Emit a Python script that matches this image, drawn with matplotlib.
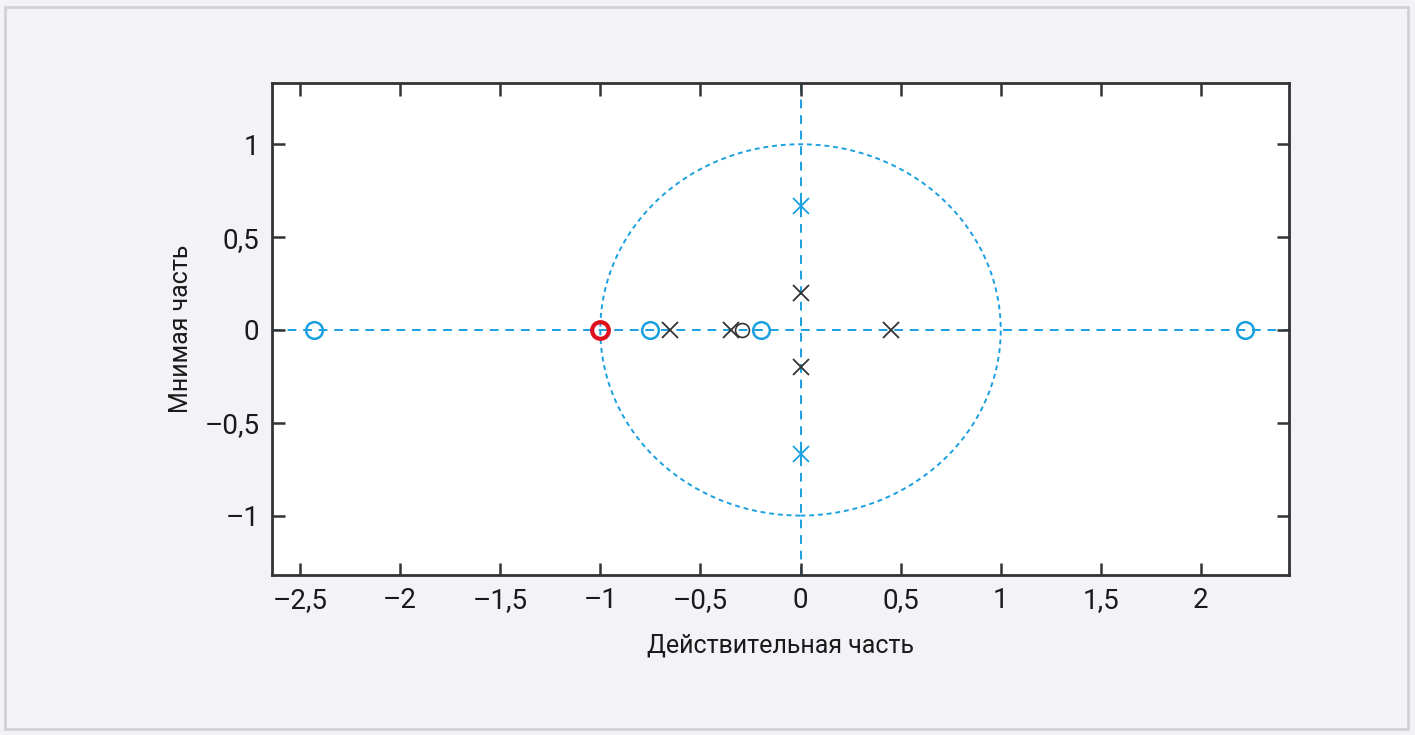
import numpy as np
import matplotlib
matplotlib.use('Agg')
from matplotlib import pyplot as plt
from matplotlib.patches import Rectangle, Circle
import matplotlib.ticker as mticker

# narrow fonts first, the picture uses a condensed grotesque
plt.rcParams['font.family'] = ['Liberation Sans Narrow', 'Roboto', 'DejaVu Sans']

# zeros / poles
zeros_blue = [-2.43, -0.75, -0.195, 2.22]
zero_red = [-1.0]
zero_black = [-0.29]
poles_black_re = [-0.65, -0.345, 0.45, 0.0, 0.0]
poles_black_im = [0.0, 0.0, 0.0, 0.2, -0.2]
poles_blue_re = [0.0, 0.0]
poles_blue_im = [0.667, -0.667]

xticks = [-2.5, -2, -1.5, -1, -0.5, 0, 0.5, 1, 1.5, 2]
yticks = [-1, -0.5, 0, 0.5, 1]

blue = '#1a9fe0'
red = '#e0101e'
dark = '#333333'
bg = '#f3f3f7'

def fmt(v, pos=None):
    s = ('%g' % v).replace('.', ',')
    return s.replace('-', '\u2013')

fig = plt.figure(figsize=(14.15, 7.35), dpi=100, facecolor=bg)
fig.patches.append(Rectangle((5/1415, 6/735), 1403/1415, 722/735, transform=fig.transFigure,
                             facecolor='none', edgecolor='#d2d2d6', linewidth=2))

ax = fig.add_axes([272/1415, 160/735, 1017/1415, 492/735])
ax.set_facecolor('white')

# reference lines: real / imaginary axes and the unit circle
ax.axhline(0, color=blue, lw=1.4, ls=(0, (4.5, 3.5)), zorder=1)
ax.axvline(0, color=blue, lw=1.4, ls=(0, (4.5, 3.5)), zorder=1)
ax.add_patch(Circle((0, 0), 1, fill=False, edgecolor=blue, lw=1.4, ls=(0, (2.5, 2)), zorder=1))

ax.plot(zeros_blue, [0]*len(zeros_blue), 'o', ms=12, mfc='none', mec=blue, mew=1.8, zorder=3)
ax.plot(zero_black, [0], 'o', ms=10, mfc='none', mec=dark, mew=1.2, zorder=3)
ax.plot(zero_red, [0], 'o', ms=12, mfc='none', mec=red, mew=3, zorder=4)
ax.plot(poles_black_re, poles_black_im, 'x', ms=11, mec=dark, mew=1.3, zorder=3)
ax.plot(poles_blue_re, poles_blue_im, 'x', ms=11, mec=blue, mew=1.3, zorder=3)
ax.plot(poles_blue_re, poles_blue_im, '|', ms=9, mec=blue, mew=1.4, zorder=3)

ax.set_xlim(-2.64, 2.44)
ax.set_ylim(-1.32, 1.33)
ax.set_xticks(xticks)
ax.set_yticks(yticks)
ax.xaxis.set_major_formatter(mticker.FuncFormatter(fmt))
ax.yaxis.set_major_formatter(mticker.FuncFormatter(fmt))
ax.tick_params(direction='in', length=9, width=1.8, color=dark, labelsize=20,
               top=True, right=True, pad=9, labelcolor='#1a1a1a')
for sp in ax.spines.values():
    sp.set_linewidth(2)
    sp.set_color(dark)

ax.set_xlabel('Действительная часть', fontsize=18, labelpad=14, color='#1a1a1a')
ax.set_ylabel('Мнимая часть', fontsize=18, labelpad=8, color='#1a1a1a')

fig.savefig('out.png', dpi=100, facecolor=bg)
